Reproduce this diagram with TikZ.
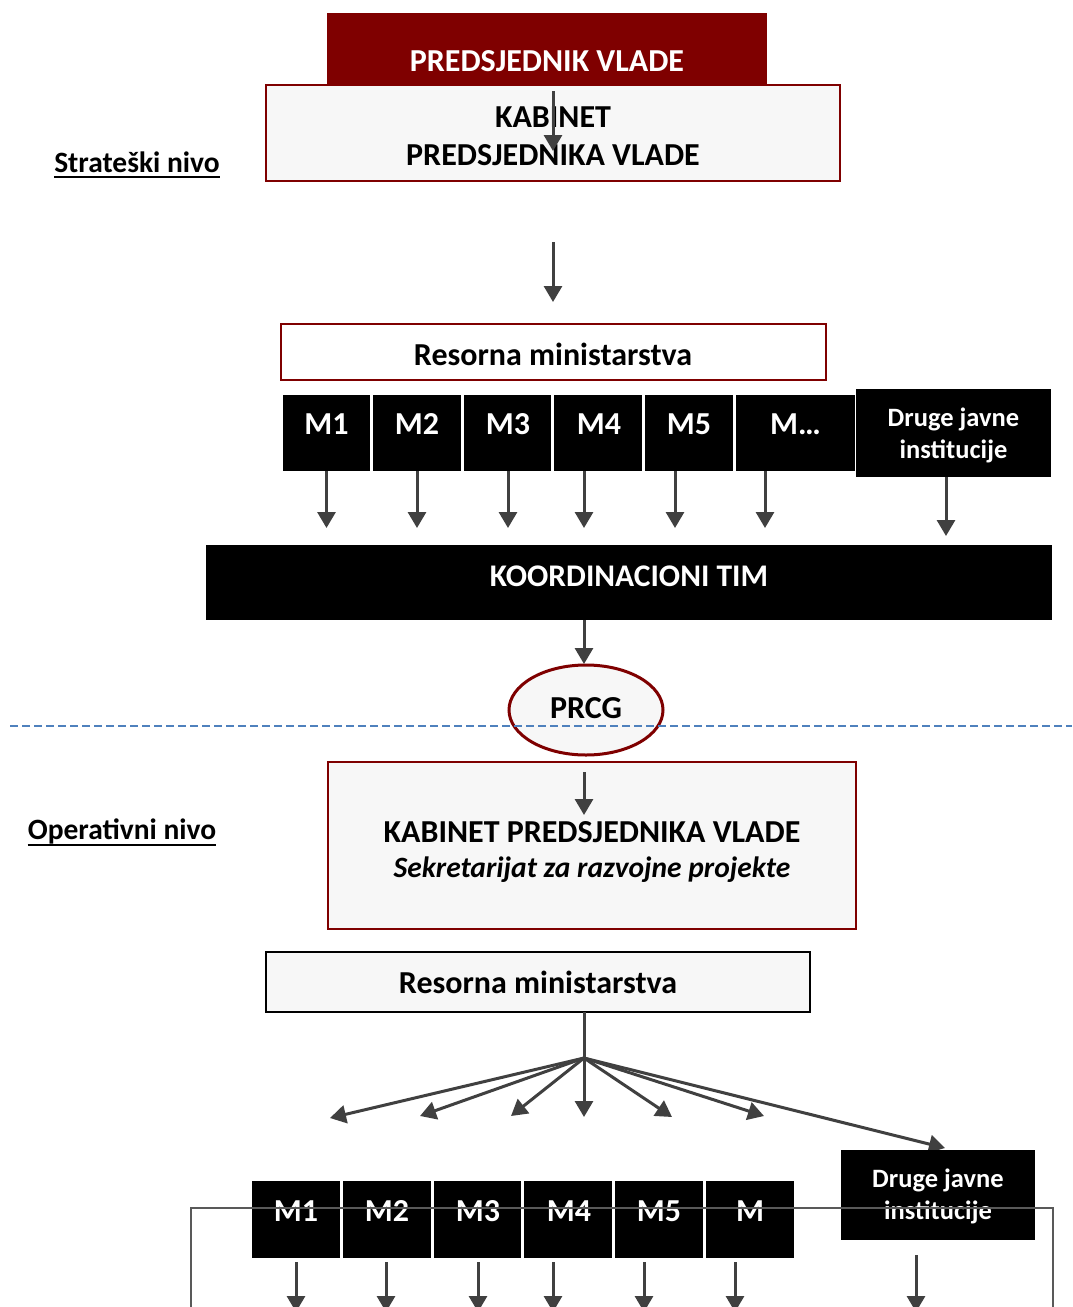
\documentclass[tikz,border=0pt]{standalone}
\usepackage{fontspec}
\setmainfont{Carlito}
\usetikzlibrary{arrows.meta,shapes.geometric}
\definecolor{dred}{HTML}{7F0000}
\definecolor{bxfill}{HTML}{F7F7F7}
\definecolor{arr}{HTML}{404040}
\definecolor{dashblue}{HTML}{4F81BD}
\definecolor{rectgray}{HTML}{595959}
\begin{document}
\begin{tikzpicture}[x=1pt,y=-1pt,
  box/.style={draw, rectangle, inner sep=0pt, outer sep=0pt},
  blk/.style={fill=black, rectangle, inner sep=0pt, outer sep=0pt},
  arrowline/.style={draw=arr, line width=3pt, -{Triangle[width=18pt,length=16pt]}},
  big/.style={font=\fontsize{32}{37}\selectfont\bfseries, inner sep=0pt, anchor=base},
  lvl/.style={font=\fontsize{29.5}{34}\selectfont\bfseries, inner sep=0pt, anchor=base},
  sml/.style={font=\fontsize{26.5}{31}\selectfont\bfseries, inner sep=0pt, anchor=base, text=white},
  ulin/.style={line width=2.5pt}
]
\useasboundingbox (0,0) rectangle (1072,1307);
\fill[white] (0,0) rectangle (1072,1307);

% ---------- strategic level ----------
\node[blk, fill=dred, minimum width=440, minimum height=72] (pv) at (547,49) {};
\node[big, text=white] (pvt) at (547,71) {PREDSJEDNIK VLADE};

\node[box, draw=dred, line width=1.5pt, fill=bxfill, minimum width=574, minimum height=96] (kab1) at (553,133) {};
\node[big] (kab1a) at (553,127) {KABINET};
\node[big] (kab1b) at (553,165) {PREDSJEDNIKA VLADE};
\draw[arrowline] ([yshift=-6pt]kab1.north) -- ++(0,60);

\node[lvl] (strat) at (137,172) {Strateški nivo};
\draw[ulin] (strat.west |- 0,177) -- (strat.east |- 0,177);

\coordinate (a1) at (553,242);
\coordinate (a2) at (553,302);
\draw[arrowline] (a1) -- (a2);

\node[box, draw=dred, line width=1.5pt, fill=white, minimum width=545, minimum height=56] (res1) at (553.5,352) {};
\node[big] (res1t) at (553,365) {Resorna ministarstva};

% M row (top)
\node[blk, minimum width=87, minimum height=76] (m1) at (326.5,433) {};
\node[blk, minimum width=88, minimum height=76] (m2) at (417,433) {};
\node[blk, minimum width=87, minimum height=76] (m3) at (507.5,433) {};
\node[blk, minimum width=88, minimum height=76] (m4) at (598,433) {};
\node[blk, minimum width=88, minimum height=76] (m5) at (689,433) {};
\node[blk, minimum width=119, minimum height=76] (m6) at (795.5,433) {};
\node[big, text=white] at (326.5,434) {M1};
\node[big, text=white] at (417,434) {M2};
\node[big, text=white] at (508,434) {M3};
\node[big, text=white] at (599,434) {M4};
\node[big, text=white] at (689,434) {M5};
\node[big, text=white] at (795.5,434) {M\dots};
\node[blk, minimum width=195, minimum height=88] (dj1) at (953.5,433) {};
\node[sml] at (953.5,426) {Druge javne};
\node[sml] at (953.5,458) {institucije};

\draw[arrowline] (m1.south) -- ++(0,57);
\draw[arrowline] (m2.south) -- ++(0,57);
\draw[arrowline] ([xshift=0.5pt]m3.south) -- ++(0,57);
\draw[arrowline] ([xshift=-14pt]m4.south) -- ++(0,57);
\draw[arrowline] ([xshift=-14pt]m5.south) -- ++(0,57);
\draw[arrowline] ([xshift=-30.5pt]m6.south) -- ++(0,57);
\draw[arrowline] ([xshift=-7.5pt]dj1.south) -- ++(0,59);

\node[blk, minimum width=846, minimum height=75] (koord) at (629,582.5) {};
\node[big, text=white, font=\fontsize{31.5}{36}\selectfont\bfseries] (koordt) at (629,586) {KOORDINACIONI TIM};

\node[ellipse, draw=dred, line width=3pt, fill=bxfill, minimum width=154, minimum height=90, inner sep=0pt] (prcg) at (586,710) {};
\node[big] (prcgt) at (586,718) {PRCG};
\draw[arrowline] (koord.south -| 584,0) -- (584,664);

\draw[dashblue, line width=2pt, dash pattern=on 8pt off 4pt] (10,726) -- (1072,726);

% ---------- operative level ----------
\node[lvl] (oper) at (122,839) {Operativni nivo};
\draw[ulin] (oper.west |- 0,845) -- (oper.east |- 0,845);

\node[box, draw=dred, line width=1.5pt, fill=bxfill, minimum width=528, minimum height=167] (kab2) at (592,845.5) {};
\node[big] (kab2a) at (592,842) {KABINET PREDSJEDNIKA VLADE};
\node[big, font=\fontsize{29.5}{34}\selectfont\bfseries\itshape] (kab2b) at (592,877) {Sekretarijat za razvojne projekte};
\draw[arrowline] ([shift={(-8,10)}]kab2.north) -- ++(0,43);

\node[box, draw=black, line width=1.5pt, fill=bxfill, minimum width=544, minimum height=60] (res2) at (538,982) {};
\node[big] (res2t) at (538,993) {Resorna ministarstva};

\coordinate (hub) at (584,1058);
\draw[arr, line width=3pt] (res2.south -| hub) -- (hub);
\coordinate (t1) at (330,1118);
\coordinate (t2) at (420,1116);
\coordinate (t3) at (511,1116);
\coordinate (t4) at (584,1117);
\coordinate (t5) at (672,1117);
\coordinate (t6) at (764,1116);
\coordinate (t7) at (945,1148);
\foreach \t in {t1,t2,t3,t4,t5,t6,t7} \draw[arrowline] (hub) -- (\t);

% M row (bottom)
\node[blk, minimum width=88, minimum height=77] (n1) at (296,1219.5) {};
\node[blk, minimum width=88, minimum height=77] (n2) at (387,1219.5) {};
\node[blk, minimum width=87, minimum height=77] (n3) at (477.5,1219.5) {};
\node[blk, minimum width=88, minimum height=77] (n4) at (568,1219.5) {};
\node[blk, minimum width=88, minimum height=77] (n5) at (659,1219.5) {};
\node[blk, minimum width=88, minimum height=77] (n6) at (750,1219.5) {};
\node[big, text=white] at (296,1221) {M1};
\node[big, text=white] at (387,1221) {M2};
\node[big, text=white] at (478,1221) {M3};
\node[big, text=white] at (569,1221) {M4};
\node[big, text=white] at (659,1221) {M5};
\node[big, text=white] at (750,1221) {M};
\node[blk, minimum width=194, minimum height=90] (dj2) at (938,1195) {};
\node[sml] at (938,1187) {Druge javne};
\node[sml] at (938,1219) {institucije};

\draw[rectgray, line width=2pt] (191,1320) -- (191,1208) -- (1053,1208) -- (1053,1320);

\draw[arrowline] ([yshift=-4pt]n1.south) -- ++(0,50);
\draw[arrowline] ([shift={(-1,4)}]n2.south) -- ++(0,50);
\draw[arrowline] ([shift={(0.5,4)}]n3.south) -- ++(0,50);
\draw[arrowline] ([shift={(-15,4)}]n4.south) -- ++(0,50);
\draw[arrowline] ([shift={(-15,4)}]n5.south) -- ++(0,50);
\draw[arrowline] ([shift={(-15,4)}]n6.south) -- ++(0,50);
\draw[arrowline] ([shift={(-22,15)}]dj2.south) -- ++(0,57);
\end{tikzpicture}
\end{document}
